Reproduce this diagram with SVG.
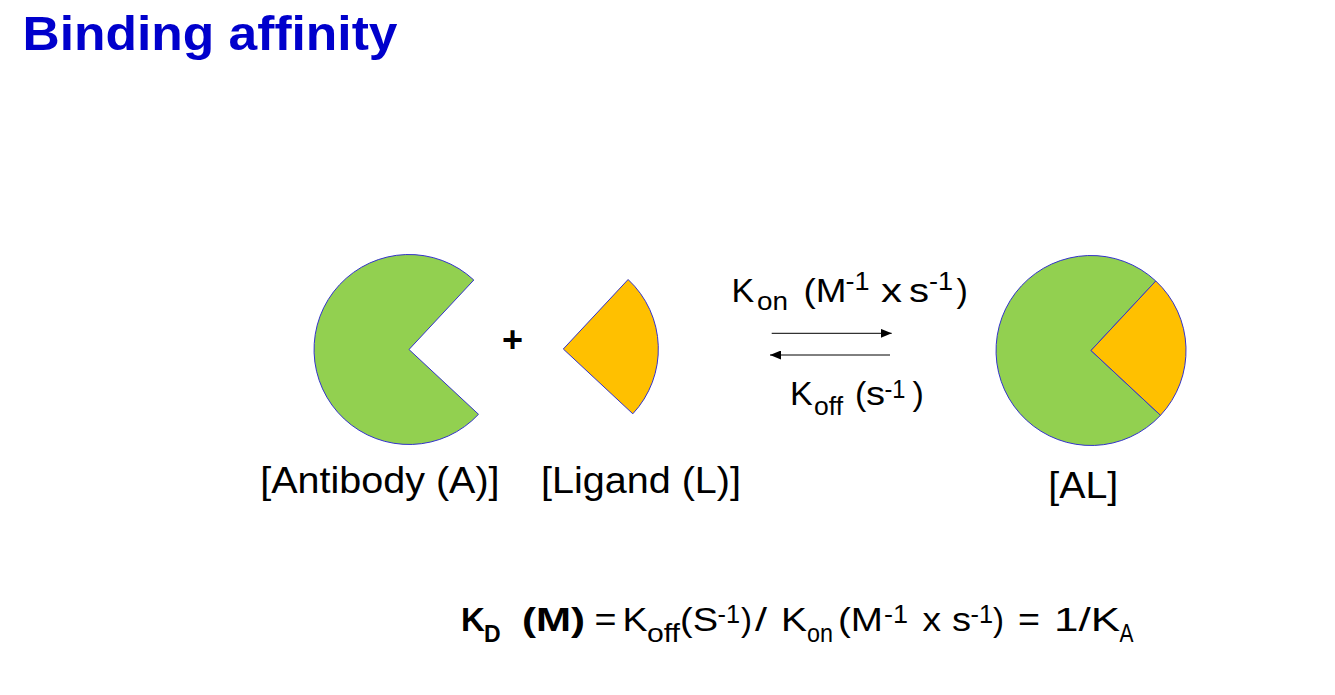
<svg xmlns="http://www.w3.org/2000/svg" width="1335" height="695" viewBox="0 0 1335 695">
  <defs>
    <style>
      .t { font-family: "Liberation Sans", Arial, sans-serif; fill: #000; }
      .b { font-weight: bold; }
      .m { font-size: 34px; }
      .f { font-size: 33px; }
      .s { font-size: 25px; }
      .lbl { font-size: 37px; }
      .green { fill: #92D050; stroke: #3333CC; stroke-width: 1; stroke-linejoin: miter; }
      .orange { fill: #FFC000; stroke: #3333CC; stroke-width: 1; }
      .arrow { stroke: #000; stroke-width: 1; fill: none; }
    </style>
    <marker id="ah" markerUnits="userSpaceOnUse" markerWidth="11" markerHeight="9" viewBox="0 0 11 9" refX="11" refY="4.5" orient="auto">
      <path d="M0,0 L11,4.5 L0,9 Z" fill="#000"/>
    </marker>
  </defs>
  <rect width="1335" height="695" fill="#fff"/>

  <text id="title" class="t b" x="22.5" y="49.5" font-size="49" style="fill:#0000CC" textLength="375" lengthAdjust="spacingAndGlyphs">Binding affinity</text>

  <g id="antibody">
    <path class="green" d="M409,349.5 L473.8,280 A95,95 0 1 0 478.5,414.3 Z"/>
    <text class="t lbl" x="260.3" y="492.7" textLength="239.3" lengthAdjust="spacingAndGlyphs">[Antibody (A)]</text>
  </g>

  <g id="plus">
    <text class="t b" x="512.5" y="352" font-size="36" text-anchor="middle">+</text>
  </g>

  <g id="ligand">
    <path class="orange" d="M563.3,349 L628.1,279.5 A95,95 0 0 1 632.8,413.8 Z"/>
    <text class="t lbl" x="541" y="492.7" textLength="200" lengthAdjust="spacingAndGlyphs">[Ligand (L)]</text>
  </g>

  <g id="complex">
    <path class="green" d="M1091,350.5 L1155.8,281 A95,95 0 1 0 1160.5,415.3 Z"/>
    <path class="orange" d="M1091,350.5 L1155.8,281 A95,95 0 0 1 1160.5,415.3 Z"/>
    <text class="t lbl" x="1048.3" y="497.7" textLength="70" lengthAdjust="spacingAndGlyphs">[AL]</text>
  </g>

  <g id="connectors">
    <line class="arrow" x1="771.7" y1="333.3" x2="891.7" y2="333.3" marker-end="url(#ah)"/>
    <line class="arrow" x1="890" y1="355" x2="770" y2="355" marker-end="url(#ah)"/>
  </g>

  <g id="kon-label">
    <text class="t m" x="731.5" y="301.5">K</text>
    <text class="t s" x="757" y="310" textLength="31" lengthAdjust="spacingAndGlyphs">on</text>
    <text class="t m" x="803.5" y="301.5" textLength="43" lengthAdjust="spacingAndGlyphs">(M</text>
    <text class="t s" x="845.5" y="289.7" textLength="24" lengthAdjust="spacingAndGlyphs">-1</text>
    <text class="t m" x="881" y="301.5" textLength="21" lengthAdjust="spacingAndGlyphs">x</text>
    <text class="t m" x="909" y="301.5" textLength="20" lengthAdjust="spacingAndGlyphs">s</text>
    <text class="t s" x="929" y="289.7" textLength="24" lengthAdjust="spacingAndGlyphs">-1</text>
    <text class="t m" x="956.5" y="301.5">)</text>
  </g>

  <g id="koff-label">
    <text class="t m" x="790" y="405">K</text>
    <text class="t s" x="814" y="415" textLength="29" lengthAdjust="spacingAndGlyphs">off</text>
    <text class="t m" x="855" y="405">(</text>
    <text class="t m" x="866" y="405" textLength="19" lengthAdjust="spacingAndGlyphs">s</text>
    <text class="t s" x="884.5" y="398" textLength="21" lengthAdjust="spacingAndGlyphs">-1</text>
    <text class="t m" x="912.5" y="405">)</text>
  </g>

  <g id="formula">
    <text class="t f b" x="461" y="631">K</text>
    <text class="t b" x="484" y="642" font-size="23">D</text>
    <text class="t f b" x="522" y="631" textLength="63" lengthAdjust="spacingAndGlyphs">(M)</text>
    <text class="t f" x="594.5" y="631" textLength="22" lengthAdjust="spacingAndGlyphs">=</text>
    <text class="t f" x="622.5" y="631" textLength="25" lengthAdjust="spacingAndGlyphs">K</text>
    <text class="t s" x="647" y="642" textLength="33" lengthAdjust="spacingAndGlyphs">off</text>
    <text class="t f" x="680" y="631" textLength="38" lengthAdjust="spacingAndGlyphs">(S</text>
    <text class="t s" x="717.5" y="623" textLength="22.5" lengthAdjust="spacingAndGlyphs">-1</text>
    <text class="t f" x="741" y="631">)</text>
    <text class="t f" x="755" y="631" textLength="12" lengthAdjust="spacingAndGlyphs">/</text>
    <text class="t f" x="781" y="631" textLength="26" lengthAdjust="spacingAndGlyphs">K</text>
    <text class="t s" x="807" y="642" textLength="26" lengthAdjust="spacingAndGlyphs">on</text>
    <text class="t f" x="838" y="631" textLength="45" lengthAdjust="spacingAndGlyphs">(M</text>
    <text class="t s" x="884" y="623" textLength="24" lengthAdjust="spacingAndGlyphs">-1</text>
    <text class="t f" x="922.5" y="631" textLength="18.5" lengthAdjust="spacingAndGlyphs">x</text>
    <text class="t f" x="952" y="631" textLength="19" lengthAdjust="spacingAndGlyphs">s</text>
    <text class="t s" x="970.5" y="623" textLength="22.5" lengthAdjust="spacingAndGlyphs">-1</text>
    <text class="t f" x="993" y="631">)</text>
    <text class="t f" x="1018" y="631" textLength="22" lengthAdjust="spacingAndGlyphs">=</text>
    <text class="t f" x="1054" y="631" textLength="66" lengthAdjust="spacingAndGlyphs">1/K</text>
    <text class="t s" x="1119.5" y="642" textLength="14" lengthAdjust="spacingAndGlyphs">A</text>
  </g>
</svg>
